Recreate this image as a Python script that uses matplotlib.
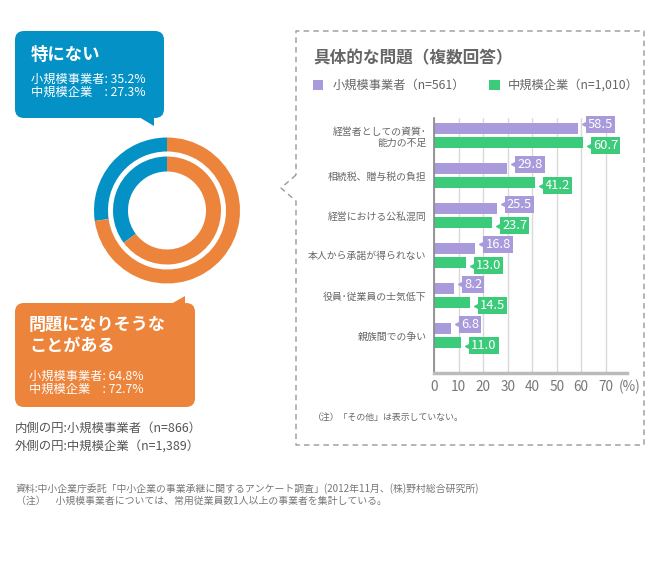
import matplotlib
matplotlib.use('Agg')
import matplotlib.pyplot as plt
from matplotlib.patches import FancyBboxPatch, Polygon, Rectangle
from matplotlib.transforms import offset_copy, blended_transform_factory

plt.rcParams['font.family'] = ['Noto Sans CJK JP', 'DejaVu Sans']

# --- data ---
categories = ['経営者としての資質･\n能力の不足', '相続税、贈与税の負担', '経営における公私混同',
              '本人から承諾が得られない', '役員･従業員の士気低下', '親族間での争い']
small_vals = [58.5, 29.8, 25.5, 16.8, 8.2, 6.8]     # 小規模事業者
mid_vals = [60.7, 41.2, 23.7, 13.0, 14.5, 11.0]     # 中規模企業
series_names = ['小規模事業者（n=561）', '中規模企業（n=1,010）']
xticks = [0, 10, 20, 30, 40, 50, 60, 70]

inner_small = [35.2, 64.8]   # 特にない / 問題になりそうなことがある (小規模事業者, inner ring)
outer_mid = [27.3, 72.7]     # same, 中規模企業 (outer ring)

BLUE = '#0492C6'
ORANGE = '#EC843B'
PURPLE = '#A99BDB'
GREEN = '#3CCB7B'
GRAY = '#666666'

fig = plt.figure(figsize=(6.6, 5.7), dpi=100)

# overlay in pixel coords for boxes and free text
bg = fig.add_axes([0, 0, 1, 1])
bg.set_xlim(0, 660)
bg.set_ylim(570, 0)
bg.axis('off')

# blue callout
bg.add_patch(FancyBboxPatch((15, 31), 149, 87, boxstyle='round,pad=0,rounding_size=9',
                            fc=BLUE, ec='none'))
bg.add_patch(Polygon([(139, 117), (154, 117), (154, 126)], fc=BLUE, ec='none'))
bg.text(31, 55, '特にない', color='white', fontsize=12.5, fontweight='bold', va='center')
bg.text(31, 79, f'小規模事業者: {inner_small[0]}%', color='white', fontsize=8.8, va='center')
bg.text(31, 92.5, f'中規模企業\u3000: {outer_mid[0]}%', color='white', fontsize=8.8, va='center')

# orange callout
bg.add_patch(FancyBboxPatch((15, 303), 180, 104, boxstyle='round,pad=0,rounding_size=9',
                            fc=ORANGE, ec='none'))
bg.add_patch(Polygon([(171, 304), (185, 304), (185, 296)], fc=ORANGE, ec='none'))
bg.text(29, 325, '問題になりそうな', color='white', fontsize=12.3, fontweight='bold', va='center')
bg.text(29, 346, 'ことがある', color='white', fontsize=12.3, fontweight='bold', va='center')
bg.text(29, 376, f'小規模事業者: {inner_small[1]}%', color='white', fontsize=8.8, va='center')
bg.text(29, 389.5, f'中規模企業\u3000: {outer_mid[1]}%', color='white', fontsize=8.8, va='center')

bg.text(15, 428, '内側の円:小規模事業者（n=866）', color='#555555', fontsize=8.9, va='center')
bg.text(15, 446, '外側の円:中規模企業（n=1,389）', color='#555555', fontsize=8.9, va='center')

# dashed frame with notch
fx = [296, 281, 296, 296, 644, 644, 296, 296]
fy = [175, 188, 201, 445, 445, 31, 31, 175]
bg.plot(fx, fy, color='#999999', lw=1, ls=(0, (4, 3)))

bg.text(313, 58, '具体的な問題（複数回答）', color=GRAY, fontsize=12, fontweight='bold', va='center')
bg.add_patch(Rectangle((312.5, 79.5), 10.5, 10.5, fc=PURPLE, ec='none'))
bg.text(332.5, 85, series_names[0], color=GRAY, fontsize=8.8, va='center')
bg.add_patch(Rectangle((489, 79.5), 10.5, 10.5, fc=GREEN, ec='none'))
bg.text(508, 85, series_names[1], color=GRAY, fontsize=8.8, va='center')
bg.text(313, 417, '（注）「その他」は表示していない。', color=GRAY, fontsize=6.4, va='center')

bg.text(16, 489, '資料:中小企業庁委託「中小企業の事業承継に関するアンケート調査」(2012年11月、(株)野村総合研究所)',
        color='#777777', fontsize=7.1, va='center')
bg.text(16, 500.5, '（注）\u3000小規模事業者については、常用従業員数1人以上の事業者を集計している。',
        color='#777777', fontsize=7.1, va='center')

# donut
r = 73
cx, cy = 167, 210.5
dax = fig.add_axes([(cx - r) / 660, 1 - (cy + r) / 570, 2 * r / 660, 2 * r / 570])
dax.pie(outer_mid, colors=[BLUE, ORANGE], startangle=90, counterclock=True, radius=1,
        wedgeprops=dict(width=14 / r, edgecolor='none'))
dax.pie(inner_small, colors=[BLUE, ORANGE], startangle=90, counterclock=True, radius=54 / r,
        wedgeprops=dict(width=15 / r, edgecolor='none'))
dax.set_xlim(-1, 1)
dax.set_ylim(-1, 1)
dax.axis('off')

# bar chart
ax = fig.add_axes([434.3 / 660, 1 - 373.3 / 570, 192.7 / 660, 255.3 / 570])
ax.patch.set_alpha(0)
ypos = list(range(len(categories)))
off = 0.1675
bh = 0.275
y_small = [y - off for y in ypos]
y_mid = [y + off for y in ypos]
ax.barh(y_small, small_vals, height=bh, color=PURPLE, zorder=2)
ax.barh(y_mid, mid_vals, height=bh, color=GREEN, zorder=2)
ax.set_xlim(0, 78.7)
ax.set_ylim(5.945, -0.4375)
ax.set_xticks(xticks)
ax.set_yticks(ypos)
ax.set_yticklabels(categories)
for lbl in ax.get_yticklabels():
    lbl.set_linespacing(1.15)
ax.grid(axis='x', color='#D9D9D9', lw=1, zorder=0)
ax.set_axisbelow(True)
for s in ['top', 'right']:
    ax.spines[s].set_visible(False)
ax.spines['left'].set_color('#888888')
ax.spines['left'].set_linewidth(1.2)
ax.spines['bottom'].set_color('#BBBBBB')
ax.spines['bottom'].set_linewidth(2.5)
ax.tick_params(axis='x', length=0, pad=4.5, labelsize=9.8, labelcolor='#777777')
ax.tick_params(axis='y', length=0, pad=5.5, labelsize=7.1, labelcolor=GRAY)
ax.text(79.9, -0.055, '(%)', transform=blended_transform_factory(ax.transData, ax.transAxes),
        ha='center', va='center', fontsize=9.8, color='#777777', clip_on=False)

# value tags
for vals, ys, col, dy in [(small_vals, y_small, PURPLE, 4.5), (mid_vals, y_mid, GREEN, -3.5)]:
    for v, y in zip(vals, ys):
        tr_txt = offset_copy(ax.transData, fig=fig, x=10, y=dy, units='dots')
        tr_tip = offset_copy(ax.transData, fig=fig, x=7, y=dy, units='dots')
        ax.text(v, y, f'{v:.1f}', transform=tr_txt, ha='left', va='center', color='white',
                fontsize=9.3, clip_on=False, zorder=4,
                bbox=dict(boxstyle='square,pad=0.15', fc=col, ec='none'))
        ax.plot([v], [y], marker='<', ms=4, color=col, transform=tr_tip, clip_on=False, zorder=4)

fig.savefig('out.png', dpi=100)
